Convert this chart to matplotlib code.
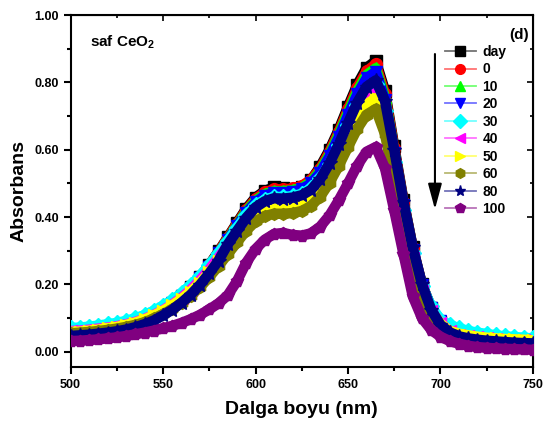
import matplotlib
matplotlib.use("Agg")
import matplotlib.pyplot as plt
from matplotlib.lines import Line2D
from matplotlib.ticker import MultipleLocator, FormatStrFormatter
import matplotlib.colors as mcolors

# 글꼴 설정 (Arial 과 비슷한 Liberation Sans, 굵게)
plt.rcParams["font.family"] = ["Liberation Sans", "DejaVu Sans"]
plt.rcParams["font.weight"] = "bold"
plt.rcParams["mathtext.fontset"] = "custom"
plt.rcParams["mathtext.rm"] = "Liberation Sans:bold"
plt.rcParams["mathtext.bf"] = "Liberation Sans:bold"

# 파장 (nm), 5 nm 간격
wavelength = list(range(500, 751, 5))

# 흡광도 값
abs_day = [0.055, 0.057, 0.060, 0.064, 0.068, 0.073, 0.079, 0.087, 0.097, 0.110,
           0.125, 0.143, 0.165, 0.191, 0.222, 0.258, 0.298, 0.340, 0.383, 0.425,
           0.458, 0.478, 0.488, 0.487, 0.484, 0.490, 0.510, 0.550, 0.600, 0.660,
           0.728, 0.793, 0.843, 0.864, 0.775, 0.610, 0.450, 0.310, 0.200, 0.130,
           0.090, 0.065, 0.052, 0.044, 0.039, 0.036, 0.034, 0.032, 0.031, 0.030,
           0.029]
abs_0 = [0.057, 0.059, 0.062, 0.066, 0.070, 0.075, 0.080, 0.088, 0.098, 0.111,
         0.126, 0.144, 0.165, 0.191, 0.221, 0.257, 0.296, 0.338, 0.380, 0.421,
         0.454, 0.474, 0.482, 0.482, 0.485, 0.493, 0.511, 0.544, 0.594, 0.653,
         0.720, 0.784, 0.833, 0.854, 0.766, 0.604, 0.446, 0.308, 0.200, 0.131,
         0.088, 0.066, 0.053, 0.045, 0.040, 0.037, 0.035, 0.033, 0.032, 0.031,
         0.030]
abs_10 = [0.058, 0.060, 0.063, 0.066, 0.070, 0.075, 0.081, 0.089, 0.098, 0.111,
          0.126, 0.143, 0.164, 0.190, 0.220, 0.255, 0.293, 0.334, 0.376, 0.417,
          0.449, 0.468, 0.477, 0.477, 0.480, 0.487, 0.505, 0.538, 0.586, 0.645,
          0.711, 0.774, 0.822, 0.842, 0.756, 0.596, 0.441, 0.305, 0.198, 0.130,
          0.090, 0.066, 0.054, 0.046, 0.041, 0.038, 0.036, 0.034, 0.033, 0.032,
          0.031]
abs_20 = [0.058, 0.060, 0.063, 0.067, 0.071, 0.076, 0.082, 0.090, 0.100, 0.112,
          0.126, 0.144, 0.165, 0.189, 0.219, 0.253, 0.292, 0.332, 0.373, 0.413,
          0.444, 0.464, 0.472, 0.472, 0.475, 0.483, 0.500, 0.532, 0.580, 0.637,
          0.702, 0.764, 0.812, 0.832, 0.747, 0.590, 0.437, 0.303, 0.198, 0.131,
          0.091, 0.067, 0.055, 0.047, 0.042, 0.039, 0.037, 0.035, 0.034, 0.033,
          0.032]
abs_30 = [0.071, 0.072, 0.075, 0.078, 0.082, 0.086, 0.092, 0.100, 0.109, 0.122,
          0.137, 0.153, 0.174, 0.198, 0.225, 0.257, 0.293, 0.330, 0.368, 0.406,
          0.435, 0.452, 0.460, 0.460, 0.462, 0.469, 0.485, 0.515, 0.559, 0.613,
          0.674, 0.732, 0.776, 0.795, 0.714, 0.565, 0.421, 0.294, 0.195, 0.135,
          0.095, 0.080, 0.070, 0.062, 0.057, 0.053, 0.049, 0.046, 0.044, 0.042,
          0.040]
abs_40 = [0.062, 0.063, 0.066, 0.069, 0.072, 0.076, 0.082, 0.089, 0.098, 0.110,
          0.124, 0.141, 0.161, 0.185, 0.213, 0.245, 0.280, 0.316, 0.353, 0.390,
          0.418, 0.436, 0.443, 0.443, 0.445, 0.451, 0.467, 0.496, 0.539, 0.592,
          0.651, 0.708, 0.751, 0.769, 0.690, 0.545, 0.403, 0.280, 0.182, 0.120,
          0.085, 0.062, 0.050, 0.046, 0.043, 0.040, 0.038, 0.036, 0.035, 0.034,
          0.033]
abs_50 = [0.059, 0.060, 0.063, 0.066, 0.070, 0.074, 0.080, 0.087, 0.096, 0.108,
          0.122, 0.138, 0.157, 0.179, 0.205, 0.236, 0.270, 0.306, 0.343, 0.379,
          0.407, 0.424, 0.431, 0.431, 0.433, 0.440, 0.455, 0.484, 0.527, 0.579,
          0.637, 0.693, 0.735, 0.753, 0.676, 0.534, 0.396, 0.276, 0.181, 0.121,
          0.084, 0.062, 0.054, 0.049, 0.045, 0.042, 0.040, 0.038, 0.037, 0.036,
          0.034]
abs_60 = [0.055, 0.057, 0.059, 0.062, 0.065, 0.069, 0.074, 0.080, 0.088, 0.099,
          0.112, 0.127, 0.145, 0.167, 0.192, 0.222, 0.255, 0.290, 0.325, 0.360,
          0.387, 0.403, 0.410, 0.410, 0.412, 0.418, 0.433, 0.461, 0.502, 0.552,
          0.608, 0.662, 0.704, 0.721, 0.646, 0.508, 0.374, 0.257, 0.164, 0.105,
          0.072, 0.050, 0.039, 0.035, 0.032, 0.030, 0.028, 0.027, 0.026, 0.025,
          0.024]
abs_80 = [0.047, 0.049, 0.051, 0.054, 0.057, 0.061, 0.066, 0.073, 0.082, 0.093,
          0.108, 0.125, 0.146, 0.170, 0.199, 0.233, 0.271, 0.319, 0.359, 0.398,
          0.429, 0.447, 0.456, 0.455, 0.458, 0.465, 0.481, 0.513, 0.560, 0.616,
          0.679, 0.740, 0.787, 0.806, 0.745, 0.600, 0.445, 0.310, 0.200, 0.125,
          0.080, 0.058, 0.046, 0.040, 0.036, 0.033, 0.031, 0.029, 0.027, 0.026,
          0.025]
abs_100 = [0.032, 0.033, 0.035, 0.037, 0.040, 0.043, 0.047, 0.052, 0.057, 0.063,
           0.070, 0.077, 0.086, 0.097, 0.110, 0.126, 0.144, 0.168, 0.210, 0.265,
           0.305, 0.333, 0.350, 0.353, 0.347, 0.345, 0.352, 0.372, 0.405, 0.450,
           0.500, 0.553, 0.594, 0.608, 0.545, 0.420, 0.290, 0.165, 0.100, 0.065,
           0.045, 0.032, 0.024, 0.018, 0.014, 0.012, 0.010, 0.009, 0.008, 0.007,
           0.006]

labels = ["day", "0", "10", "20", "30", "40", "50", "60", "80", "100"]
series = [abs_day, abs_0, abs_10, abs_20, abs_30, abs_40, abs_50, abs_60, abs_80, abs_100]

# 스타일 (Origin 기본 색/기호)
colors = ["#000000", "#ff0000", "#00ff00", "#0000ff", "#00ffff",
          "#ff00ff", "#ffff00", "#808000", "#000080", "#800080"]
markers = ["s", "o", "^", "v", "D", "<", ">", "h", "*", "p"]

fig = plt.figure(figsize=(5.48, 4.25), dpi=100)
ax = fig.add_axes([0.1287, 0.1365, 0.8439, 0.8282])

for i in range(len(series)):
    ms = 10 if markers[i] == "*" else 8.5
    ax.plot(wavelength, series[i], color=colors[i], lw=7.5, marker=markers[i],
            ms=ms, mec=colors[i], mfc=colors[i], zorder=2 + i,
            solid_capstyle="butt", solid_joinstyle="round")

# 축 범위와 눈금
ax.set_xlim(500, 750)
ax.set_ylim(-0.045, 1.0)
ax.xaxis.set_major_locator(MultipleLocator(50))
ax.xaxis.set_minor_locator(MultipleLocator(25))
ax.yaxis.set_major_locator(MultipleLocator(0.2))
ax.yaxis.set_minor_locator(MultipleLocator(0.1))
ax.yaxis.set_major_formatter(FormatStrFormatter("%.2f"))

ax.tick_params(which="both", direction="out", width=1.5, labelsize=9)
ax.tick_params(which="major", length=5)
ax.tick_params(which="minor", length=3)
for sp in ax.spines.values():
    sp.set_linewidth(1.5)

# 위/오른쪽 안쪽 눈금
top = ax.secondary_xaxis("top")
top.xaxis.set_major_locator(MultipleLocator(50))
top.xaxis.set_minor_locator(MultipleLocator(25))
top.tick_params(which="both", direction="in", width=1.2, labeltop=False)
top.tick_params(which="major", length=4)
top.tick_params(which="minor", length=2.5)
right = ax.secondary_yaxis("right")
right.yaxis.set_major_locator(MultipleLocator(0.2))
right.yaxis.set_minor_locator(MultipleLocator(0.1))
right.tick_params(which="both", direction="in", width=1.2, labelright=False)
right.tick_params(which="major", length=4)
right.tick_params(which="minor", length=2.5)

ax.set_xlabel("Dalga boyu (nm)", fontsize=14, fontweight="bold", labelpad=7)
ax.set_ylabel("Absorbans", fontsize=14, fontweight="bold", labelpad=5)

ax.text(0.042, 0.948, r"saf CeO$_2$", transform=ax.transAxes, fontsize=11,
        fontweight="bold", ha="left", va="top")
ax.text(0.992, 0.962, "(d)", transform=ax.transAxes, fontsize=11,
        fontweight="bold", ha="right", va="top")

# 시간 방향 화살표
ax.annotate("", xy=(0.788, 0.44), xytext=(0.788, 0.897), xycoords="axes fraction",
            arrowprops=dict(arrowstyle="-|>,head_length=1.3,head_width=0.35",
                            lw=1.5, color="black", mutation_scale=12))

# 범례 (선은 옅은 색)
handles = []
for i in range(len(series)):
    light = [c + (1 - c) * 0.45 for c in mcolors.to_rgb(colors[i])]
    handles.append(Line2D([0], [0], color=light, lw=1.3, marker=markers[i],
                          ms=7 if markers[i] != "*" else 8,
                          mfc=colors[i], mec=colors[i]))
ax.legend(handles, labels, loc="upper left", bbox_to_anchor=(0.81, 0.915),
          frameon=False, handlelength=2.2, handletextpad=0.5,
          labelspacing=0.25, borderaxespad=0, borderpad=0,
          prop={"weight": "bold", "size": 10})

fig.savefig("out.png", dpi=100)
